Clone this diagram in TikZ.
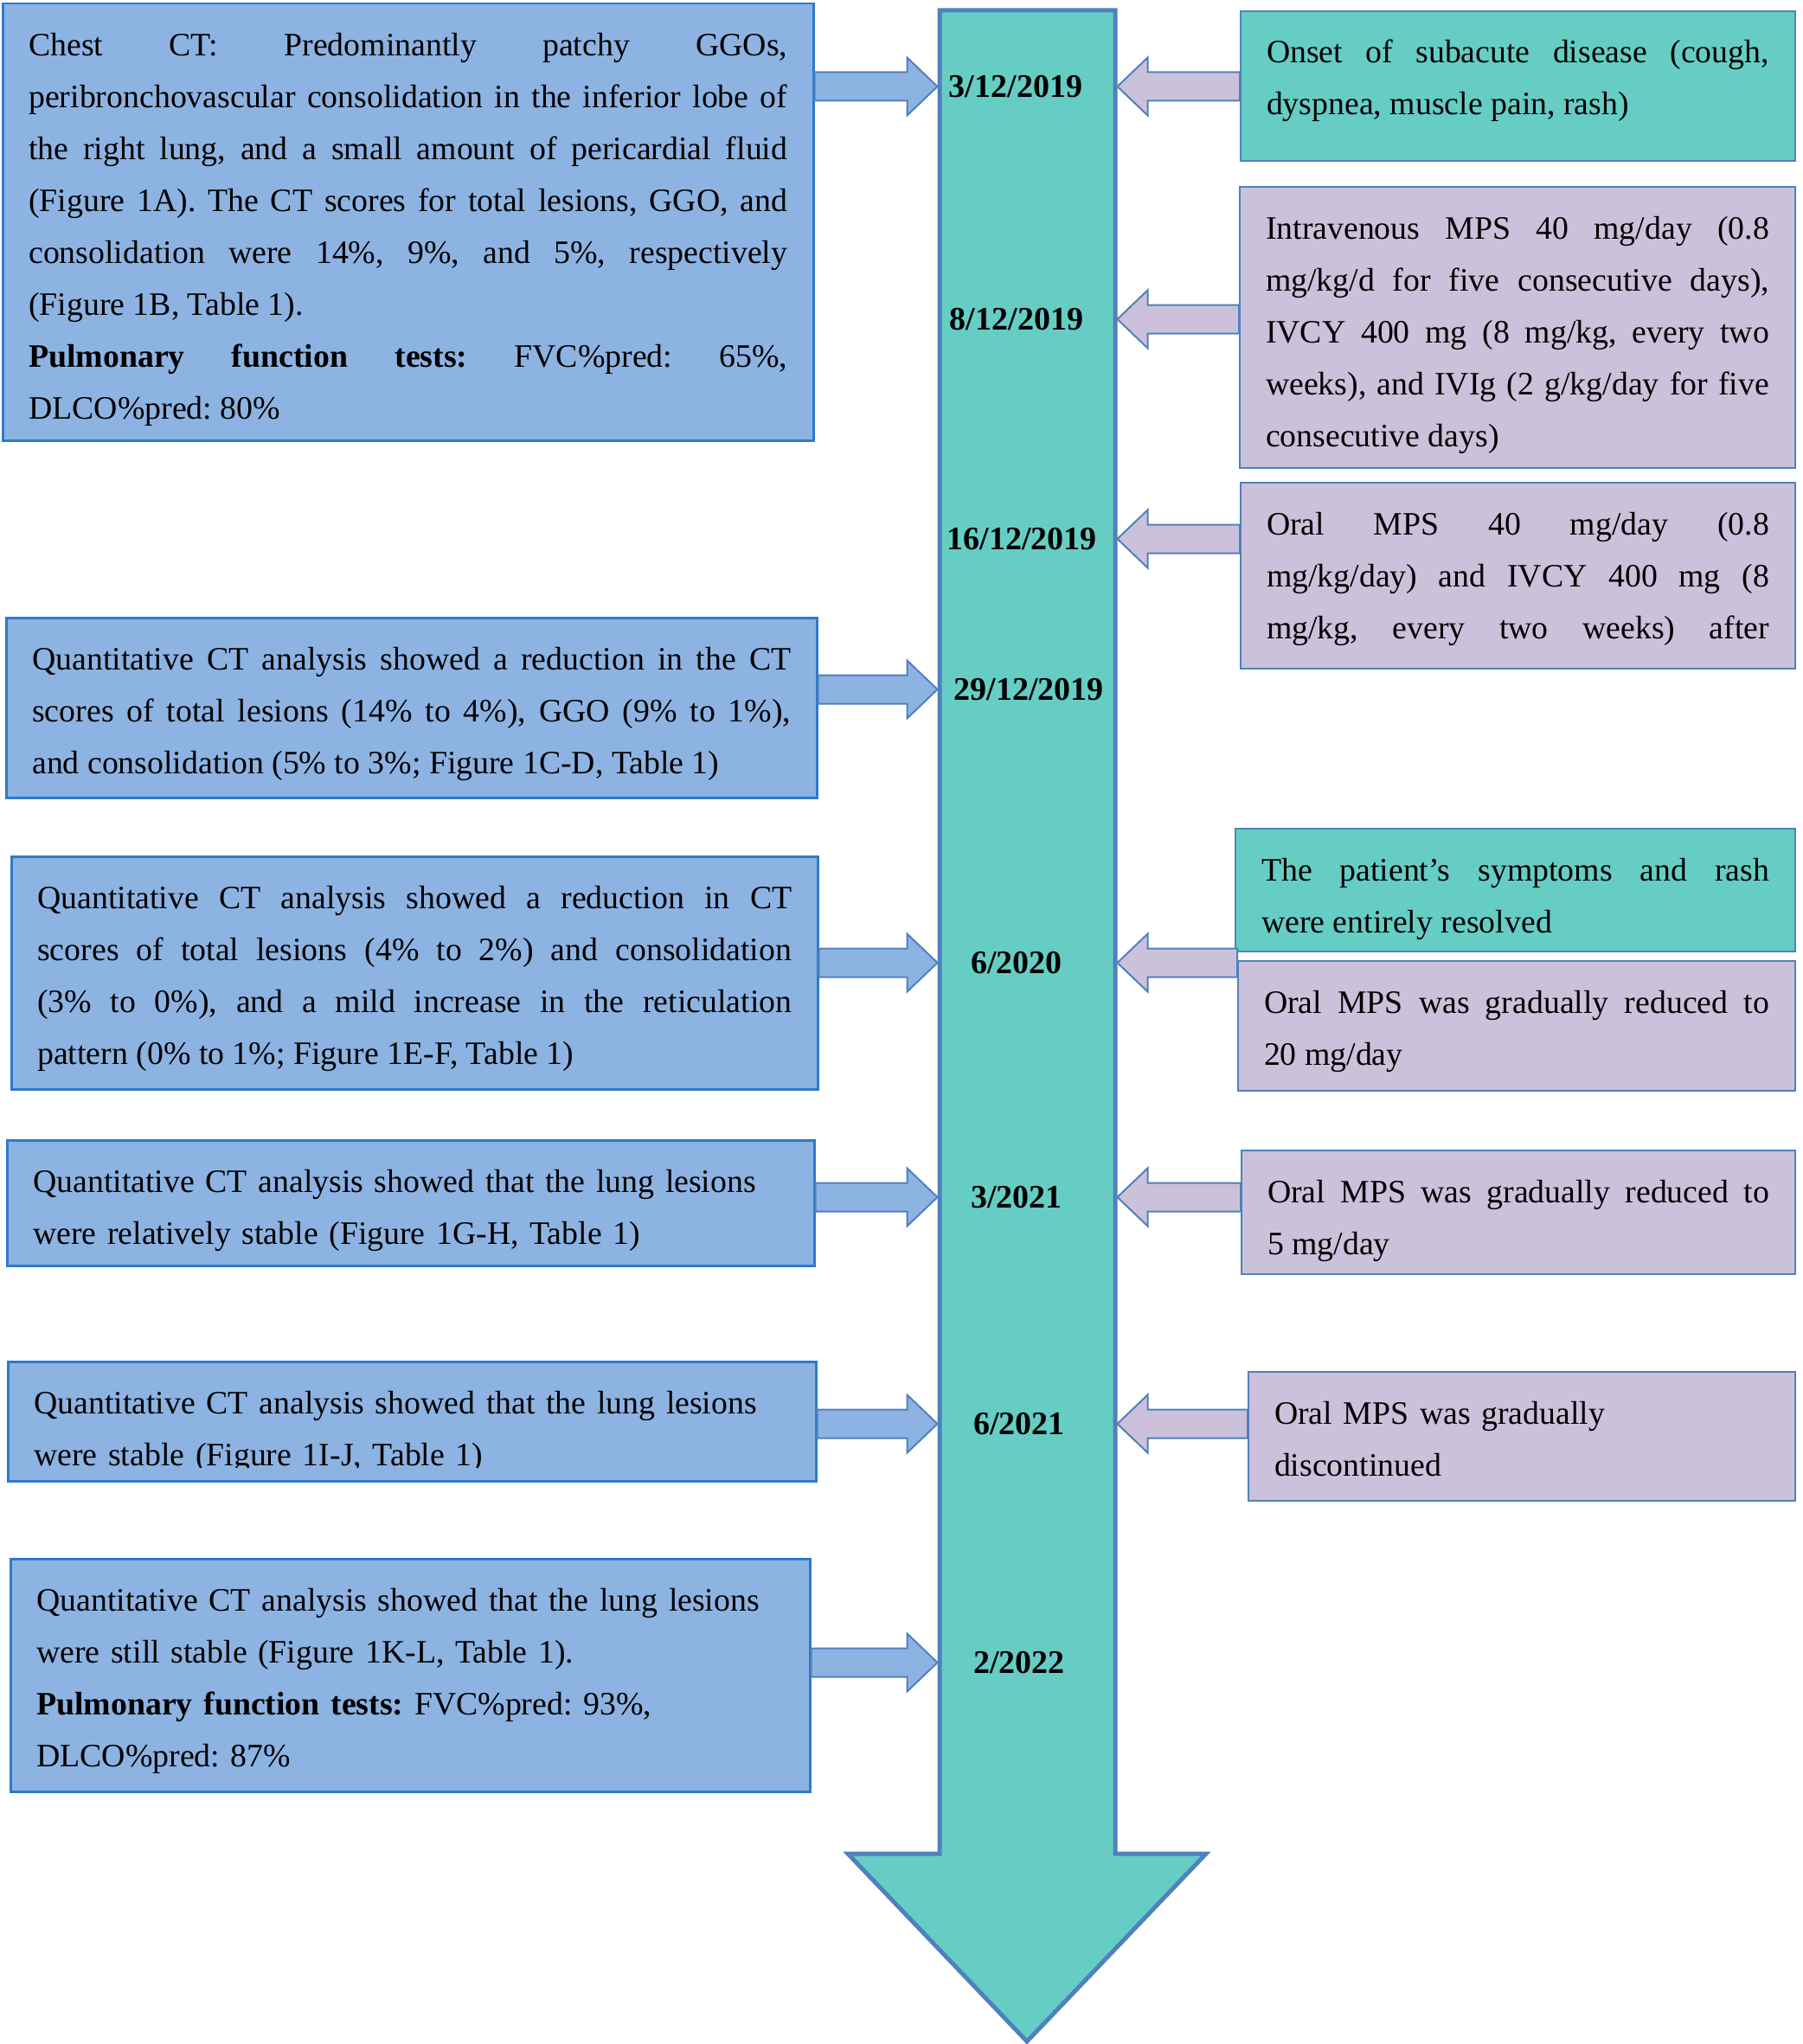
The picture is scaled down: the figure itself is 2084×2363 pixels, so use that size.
\documentclass[tikz,border=0pt]{standalone}
\usepackage{fontspec}
\setmainfont{Liberation Serif}
\usetikzlibrary{calc}

\setlength{\parindent}{0pt}
\frenchspacing
\hyphenpenalty=10000
\exhyphenpenalty=10000
\hbadness=10000

\definecolor{barteal}{RGB}{102,205,196}
\definecolor{barline}{RGB}{79,129,189}
\definecolor{ctblue}{RGB}{141,179,226}
\definecolor{ctline}{RGB}{46,122,204}
\definecolor{rxpurple}{RGB}{204,193,218}

\newcommand{\bodyfont}{\fontsize{37.8}{60}\selectfont\frenchspacing}
\newcommand{\datefont}{\fontsize{38}{46}\selectfont\bfseries}
\newcommand{\txtop}{\rule{0pt}{60pt}}
\newcommand{\txbot}[1]{\rule[-#1pt]{0pt}{#1pt}}

% block arrow: style, from, to, signed offset of the head base
\newcommand{\blockarrow}[4]{%
  \draw[#1] let \p1=#2, \p2=#3 in
    (\x1,{\y1+16.5pt}) -- ({\x2+#4pt},{\y1+16.5pt}) -- ({\x2+#4pt},{\y1+33.5pt}) -- (\x2,\y1)
    -- ({\x2+#4pt},{\y1-33.5pt}) -- ({\x2+#4pt},{\y1-16.5pt}) -- (\x1,{\y1-16.5pt}) -- cycle;}

\tikzset{
  ctbox/.style={draw=ctline, fill=ctblue, line width=2.5pt, anchor=north west,
    inner xsep=30pt, inner ysep=0pt, font=\bodyfont, align=justify},
  rxbox/.style={draw=barline, fill=rxpurple, line width=2pt, anchor=north west,
    inner xsep=30pt, inner ysep=0pt, font=\bodyfont, align=justify},
  evbox/.style={rxbox, fill=barteal},
  datelabel/.style={font=\datefont, inner sep=0pt},
  ctarrow/.style={draw=barline, fill=ctblue, line width=2pt},
  rxarrow/.style={draw=barline, fill=rxpurple, line width=2pt},
  timeline/.style={draw=barline, fill=barteal, line width=5pt}
}

\begin{document}
\begin{tikzpicture}[x=1pt,y=-1pt]

\useasboundingbox (0,0) rectangle (2084,2363);

% the time line
\draw[timeline] (1086,12) -- (1289,12) -- (1289,2143) -- (1394,2143)
  -- (1187,2360) -- (980,2143) -- (1086,2143) -- cycle;

\coordinate (barL) at (1083.5,0);
\coordinate (barR) at (1291.5,0);

\node[datelabel] (d1) at (1174,100) {3/12/2019};

\node[datelabel] (d2) at (1175,369) {8/12/2019};

\node[datelabel] (d3) at (1181,623) {16/12/2019};

\node[datelabel] (d4) at (1189,797) {29/12/2019};

\node[datelabel] (d5) at (1175,1113) {6/2020};

\node[datelabel] (d6) at (1175,1384) {3/2021};

\node[datelabel] (d7) at (1178,1646) {6/2021};

\node[datelabel] (d8) at (1178,1922) {2/2022};

% CT findings on the left
\node[ctbox, text width=877pt] (l1) at (2,3) {\txtop Chest CT: Predominantly patchy GGOs, \linebreak
  peribronchovascular consolidation in the inferior lobe of \linebreak
  the right lung, and a small amount of pericardial fluid \linebreak
  (Figure 1A). The CT scores for total lesions, GGO, and \linebreak
  consolidation were 14\%, 9\%, and 5\%, respectively \linebreak
  (Figure 1B, Table 1).\par
  \textbf{Pulmonary function tests:} FVC\%pred: 65\%, \linebreak
  DLCO\%pred: 80\%\txbot{25}};

\node[ctbox, text width=877pt] (l2) at (6,713) {\txtop Quantitative CT analysis showed a reduction in the CT \linebreak
  scores of total lesions (14\% to 4\%), GGO (9\% to 1\%), \linebreak
  and consolidation (5\% to 3\%; Figure 1C-D, Table 1)\txbot{28}};

\node[ctbox, text width=872pt] (l3) at (12,989) {\txtop Quantitative CT analysis showed a reduction in CT \linebreak
  scores of total lesions (4\% to 2\%) and consolidation \linebreak
  (3\% to 0\%), and a mild increase in the reticulation \linebreak
  pattern (0\% to 1\%; Figure 1E-F, Table 1)\txbot{29}};

\node[ctbox, align=left, text width=873pt] (l4) at (7,1317) {\txtop Quantitative CT analysis showed that the lung lesions\\
  were relatively stable (Figure 1G-H, Table 1)\txbot{25}};

\node[ctbox, align=left, text width=874pt] (l5) at (8,1573) {\txtop Quantitative CT analysis showed that the lung lesions\\
  were stable (Figure 1I-J, Table 1)\txbot{18}};

% text cut off at the lower edge
\fill[ctblue] ([shift={(2.5pt,2.5pt)}]l5.south west) rectangle ([shift={(-2.5pt,17pt)}]l5.south east);

\node[ctbox, align=left, text width=864pt] (l6) at (11,1801) {\txtop Quantitative CT analysis showed that the lung lesions\\
  were still stable (Figure 1K-L, Table 1).\\
  \textbf{Pulmonary function tests:} FVC\%pred: 93\%,\\
  DLCO\%pred: 87\%\txbot{29}};

% events and treatment on the right
\node[evbox, text width=581pt] (r1) at (1433,12) {\txtop Onset of subacute disease (cough, \linebreak
  dyspnea, muscle pain, rash)\txbot{53}};

\node[rxbox, text width=582pt] (r2) at (1432,215) {\txtop Intravenous MPS 40 mg/day (0.8 \linebreak
  mg/kg/d for five consecutive days), \linebreak
  IVCY 400 mg (8 mg/kg, every two \linebreak
  weeks), and IVIg (2 g/kg/day for five \linebreak
  consecutive days)\txbot{25}};

\node[rxbox, text width=581pt] (r3) at (1433,557) {\txtop Oral MPS 40 mg/day (0.8 \linebreak
  mg/kg/day) and IVCY 400 mg (8 \linebreak
  mg/kg, every two weeks) after\txbot{35}{\parfillskip=0pt\par}};

\node[evbox, text width=587pt] (r4) at (1427,957) {\txtop The patient’s symptoms and rash \linebreak
  were entirely resolved\txbot{22}};

\node[rxbox, text width=584pt] (r5) at (1430,1110) {\txtop Oral MPS was gradually reduced to \linebreak
  20 mg/day\txbot{30}};

\node[rxbox, text width=580pt] (r6) at (1434,1329) {\txtop Oral MPS was gradually reduced to \linebreak
  5 mg/day\txbot{23}};

\node[rxbox, align=left, text width=572pt] (r7) at (1442,1585) {\txtop Oral MPS was gradually\\
  discontinued\txbot{29}};

% From the CT boxes to the time line
\blockarrow{ctarrow}{(l1.east |- d1)}{(d1 -| barL)}{-35}
\blockarrow{ctarrow}{(l2.east |- d4)}{(d4 -| barL)}{-35}
\blockarrow{ctarrow}{(l3.east |- d5)}{(d5 -| barL)}{-35}
\blockarrow{ctarrow}{(l4.east |- d6)}{(d6 -| barL)}{-35}
\blockarrow{ctarrow}{(l5.east |- d7)}{(d7 -| barL)}{-35}
\blockarrow{ctarrow}{(l6.east |- d8)}{(d8 -| barL)}{-35}

% From the treatment boxes to the time line
\blockarrow{rxarrow}{(r1.west |- d1)}{(d1 -| barR)}{35}
\blockarrow{rxarrow}{(r2.west |- d2)}{(d2 -| barR)}{35}
\blockarrow{rxarrow}{(r3.west |- d3)}{(d3 -| barR)}{35}
\blockarrow{rxarrow}{(r5.west |- d5)}{(d5 -| barR)}{35}
\blockarrow{rxarrow}{(r6.west |- d6)}{(d6 -| barR)}{35}
\blockarrow{rxarrow}{(r7.west |- d7)}{(d7 -| barR)}{35}

\end{tikzpicture}
\end{document}
